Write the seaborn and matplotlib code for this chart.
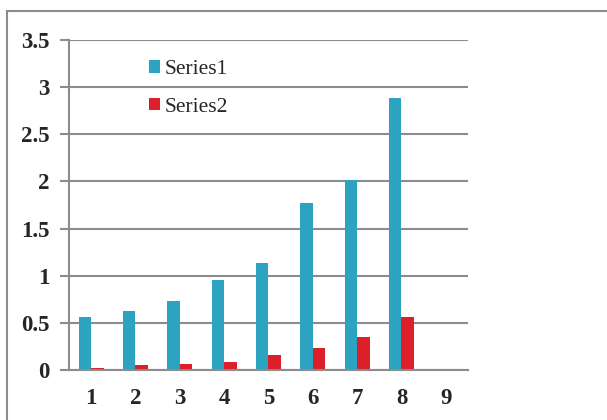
import matplotlib
matplotlib.use("Agg")
import matplotlib.pyplot as plt
from matplotlib.patches import Rectangle
from matplotlib.ticker import FixedLocator
import numpy as np
import pandas as pd
import seaborn as sns

# Categories along the x axis (the last one carries no data)
categories = ["1", "2", "3", "4", "5", "6", "7", "8", "9"]
series1 = [0.56, 0.63, 0.73, 0.95, 1.13, 1.77, 2.02, 2.89, np.nan]
series2 = [0.02, 0.05, 0.065, 0.08, 0.155, 0.23, 0.355, 0.565, np.nan]
series_names = ["Series1", "Series2"]
y_ticks = [0, 0.5, 1, 1.5, 2, 2.5, 3, 3.5]
y_tick_labels = ["0", "0.5", "1", "1.5", "2", "2.5", "3", "3.5"]

colors = ["#2CA3C1", "#DC1F2B"]
grid_gray = "#8C8C8C"

df = pd.DataFrame({
    "category": categories * 2,
    "value": series1 + series2,
    "series": [series_names[0]] * len(categories) + [series_names[1]] * len(categories),
}).dropna()

sns.set_theme(style="white")
plt.rcParams["font.family"] = ["Liberation Serif", "DejaVu Serif"]

fig = plt.figure(figsize=(6.07, 4.20), dpi=100)
ax = fig.add_axes([69 / 607, 50 / 420, 399 / 607, 330 / 420])

sns.barplot(data=df, x="category", y="value", hue="series", order=categories,
            hue_order=series_names, palette=colors, width=0.56, saturation=1,
            linewidth=0, ax=ax, zorder=3)

ax.set_xlim(-0.5, len(categories) - 0.5)
ax.set_ylim(0, 3.5)
ax.set_xlabel("")
ax.set_ylabel("")

# horizontal grid only
ax.set_yticks(y_ticks)
ax.set_yticklabels(y_tick_labels, fontweight="bold", fontsize=16.5)
ax.yaxis.grid(True, color=grid_gray, linewidth=1.5, zorder=0)
ax.xaxis.grid(False)
ax.set_axisbelow(True)

# category labels centred, tick marks on the category boundaries
ax.set_xticks(range(len(categories)))
ax.set_xticklabels(categories, fontweight="bold", fontsize=16.5)
ax.xaxis.set_minor_locator(FixedLocator(np.arange(-0.5, len(categories), 1.0)))
ax.tick_params(axis="x", which="major", length=0, pad=13)
ax.tick_params(axis="x", which="minor", length=6, width=1.5, color=grid_gray, direction="out")
ax.tick_params(axis="y", which="major", length=6.5, width=1.5, color=grid_gray,
               direction="out", pad=7.5, left=True)

for side in ["top", "right"]:
    ax.spines[side].set_visible(False)
for side in ["left", "bottom"]:
    ax.spines[side].set_color(grid_gray)
    ax.spines[side].set_linewidth(1.5)
    ax.spines[side].set_zorder(4)

leg = ax.legend(loc="upper left", bbox_to_anchor=(132 / 607, 1 - 43 / 420),
                bbox_transform=fig.transFigure, frameon=False, fontsize=15.5,
                handlelength=0.5, handleheight=0.5, handletextpad=0.2,
                labelspacing=0.85, borderpad=0.3, title=None)

# outer chart border
fig.patches.append(Rectangle((6.5 / 607, -0.2), 1.2, 1.2 - 10.5 / 420,
                             transform=fig.transFigure, fill=False,
                             edgecolor=grid_gray, linewidth=1.5, zorder=0))

fig.savefig("out.png", dpi=100, facecolor="white")
